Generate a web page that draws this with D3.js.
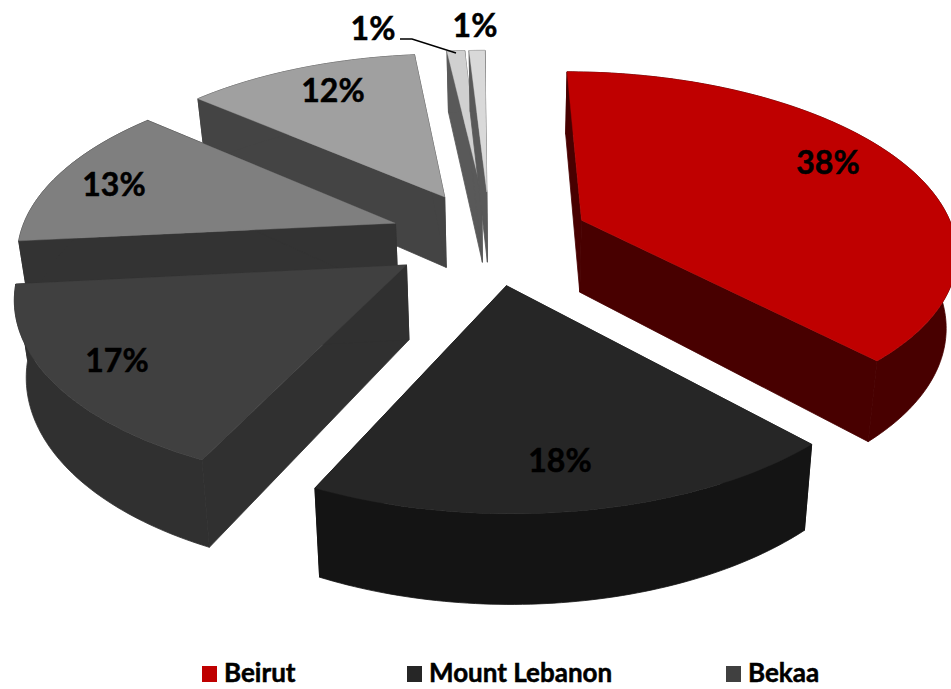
<!DOCTYPE html>
<html><head><meta charset="utf-8">
<script src="https://cdn.jsdelivr.net/npm/d3@7/dist/d3.min.js"></script>
<style>html,body{margin:0;padding:0;background:#fff}svg{display:block}text{font-family:Lato,"Open Sans",sans-serif;font-weight:700;fill:#000;stroke:#000;stroke-width:0.5px}</style>
</head><body><svg id="c" width="951" height="689"></svg>
<script>
const sliceValues = [38.1,19,16.3,13,11.9,0.9,0.8];
const percentLabels = ["38%","18%","17%","13%","12%","1%","1%"];
const legendNames = ["Beirut","Mount Lebanon","Bekaa"];
const topColors  = ["#bf0000","#262626","#404040","#7f7f7f","#a0a0a0","#d0d0d0","#d9d9d9"];
const wallColors = ["#480000","#141414","#303030","#333333","#444444","#595959","#595959"];
const drawOrder = [5,6,4,3,2,0,1];

const W=951,H=689, svg=d3.select("#c");
const cx=490, cy=238, vanishX=510, R=375, ky=0.47, persp=0.154, explode=0.267, depth=73, shrink=0.024, roll=0.007;
const startDeg=-0.9;
const toRad=d3.scaleLinear().domain([0,360]).range([0,2*Math.PI]);
const arcs=d3.pie().sort(null).startAngle(toRad(startDeg)).endAngle(toRad(startDeg+360)).value(d=>d)(sliceValues);

function project(u,v,z){
  const s=1/(1+persp*v);
  const x0=cx-vanishX+u*R;
  const x=vanishX+x0*s*(1-shrink*z);
  return [x, cy-v*R*ky*s+z*depth*s+(x-600)*roll];
}
const line=d3.line();
const root=svg.append("g");

function rim(a,off,z){
  const n=Math.max(4,Math.ceil(toRad.invert(a.endAngle-a.startAngle)));
  return d3.range(n+1).map(i=>{
    const t=a.startAngle+(a.endAngle-a.startAngle)*i/n;
    return project(off[0]+Math.sin(t),off[1]+Math.cos(t),z);
  });
}
drawOrder.forEach(i=>{
  const a=arcs[i], mid=(a.startAngle+a.endAngle)/2;
  const off=[explode*Math.sin(mid),explode*Math.cos(mid)];
  const apexT=project(off[0],off[1],0), apexB=project(off[0],off[1],1);
  const rT=rim(a,off,0), rB=rim(a,off,1);
  const g=root.append("g");
  const wall=(pts)=>g.append("path").attr("d",line(pts)+"Z").attr("fill",wallColors[i]).attr("stroke",wallColors[i]).attr("stroke-width",0.8);
  wall([apexT,rT[0],rB[0],apexB]);
  wall([apexT,rT[rT.length-1],rB[rB.length-1],apexB]);
  wall(rT.concat(rB.slice().reverse()));
  g.append("path").attr("d",line([apexT].concat(rT))+"Z").attr("fill",topColors[i]).attr("stroke",topColors[i]).attr("stroke-width",0.4);
});

// labels
const labelPos=[[828,163],[560,461],[117,361],[114,185],[333,91],[373,29],[475,26]];
percentLabels.forEach((t,i)=>{
  svg.append("text").attr("x",labelPos[i][0]).attr("y",labelPos[i][1]).attr("dy","0.35em")
    .attr("text-anchor","middle").attr("font-size",32).text(t);
});
svg.append("path").attr("d",line([[400,39],[412,39],[456,53]])).attr("fill","none").attr("stroke","#000").attr("stroke-width",1.5);

// legend
const legendX=[202,407,726];
legendNames.forEach((n,i)=>{
  svg.append("rect").attr("x",legendX[i]).attr("y",666).attr("width",15).attr("height",16).attr("fill",topColors[i]);
  svg.append("text").attr("x",legendX[i]+22).attr("y",682).attr("font-size",26).text(n);
});
</script></body></html>
